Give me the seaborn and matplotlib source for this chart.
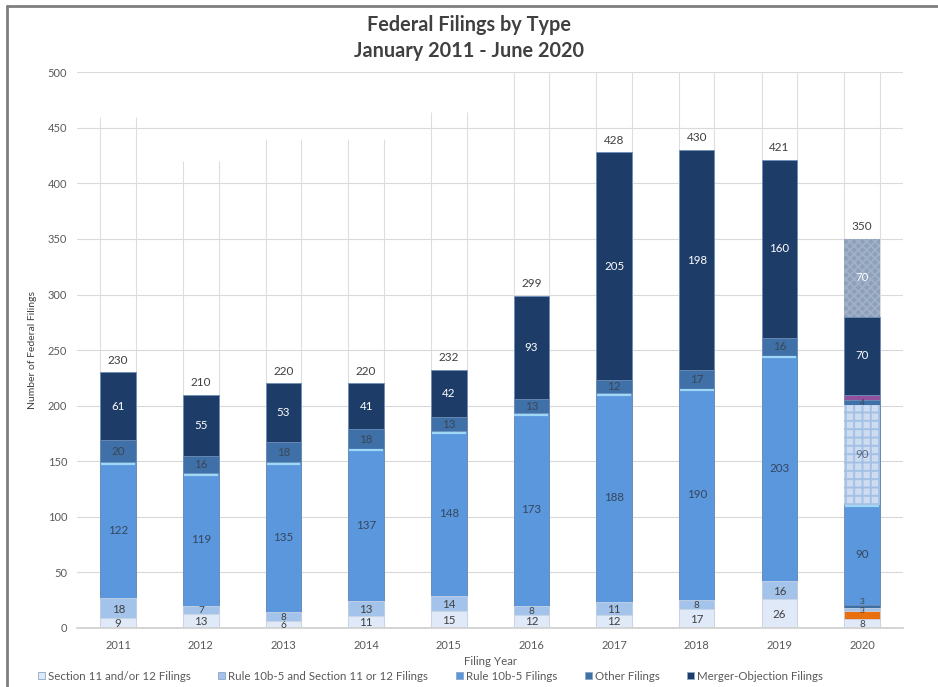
import matplotlib
matplotlib.use("Agg")
import matplotlib.pyplot as plt
import seaborn as sns
import pandas as pd
from matplotlib.patches import Patch
from matplotlib.lines import Line2D

# ---- data -------------------------------------------------------------
years = ["2011", "2012", "2013", "2014", "2015", "2016", "2017", "2018", "2019", "2020"]

section_11 = [9, 13, 6, 11, 15, 12, 12, 17, 26, 8]
orange_2020 = [0, 0, 0, 0, 0, 0, 0, 0, 0, 7]
rule_10b5_s11 = [18, 7, 8, 13, 14, 8, 11, 8, 16, 3]
other_low_2020 = [0, 0, 0, 0, 0, 0, 0, 0, 0, 3]
rule_10b5 = [122, 119, 135, 137, 148, 173, 188, 190, 203, 90]
rule_10b5_proj = [0, 0, 0, 0, 0, 0, 0, 0, 0, 90]
other = [20, 16, 18, 18, 13, 13, 12, 17, 16, 4]
purple_2020 = [0, 0, 0, 0, 0, 0, 0, 0, 0, 5]
merger = [61, 55, 53, 41, 42, 93, 205, 198, 160, 70]
merger_proj = [0, 0, 0, 0, 0, 0, 0, 0, 0, 70]

legend_labels = ["Section 11 and/or 12 Filings",
                 "Rule 10b-5 and Section 11 or 12 Filings",
                 "Rule 10b-5 Filings",
                 "Other Filings",
                 "Merger-Objection Filings"]

# layers bottom -> top: values, face, hatch, hatch colour, label colour, show label, label nudge
layers = [
    (section_11,     "#dfe9f7", None, None,      "#404040", True, -0.5),
    (orange_2020,    "#e8700f", None, None,      "#404040", False, 0),
    (rule_10b5_s11,  "#a3c3ea", None, None,      "#404040", True, -1.0),
    (other_low_2020, "#3d6ea6", None, None,      "#404040", True, 4.5),
    (rule_10b5,      "#5b97dd", None, None,      "#34465e", True, 0),
    (rule_10b5_proj, "#cddcf0", "++", "#a4c0e4", "#5a6a80", True, 0),
    (other,          "#3f70a8", None, None,      "#3a4656", True, 0),
    (purple_2020,    "#93509c", None, None,      "#ffffff", False, 0),
    (merger,         "#1e3c68", None, None,      "#ffffff", True, 0),
    (merger_proj,    "#8d9fb9", "xxxx", "#a0b0c7", "#ffffff", True, 0),
]

# ---- style ------------------------------------------------------------
sns.set_theme(style="white")
plt.rcParams["font.family"] = ["Lato", "DejaVu Sans"]
plt.rcParams["hatch.linewidth"] = 1.4

fig = plt.figure(figsize=(9.38, 6.87), dpi=100)
ax = fig.add_axes([0.082, 0.0859, 0.881, 0.809])

# cumulative tops for overlay stacking
tops = []
running = [0] * len(years)
for vals, *_ in layers:
    running = [r + v for r, v in zip(running, vals)]
    tops.append(list(running))
totals = tops[-1]

bar_w = 0.43
containers = {}
for idx in range(len(layers) - 1, -1, -1):
    vals, face, hatch, hcol = layers[idx][:4]
    df = pd.DataFrame({"year": years, "top": tops[idx], "val": vals})
    df = df[df["val"] > 0]
    n_before = len(ax.containers)
    kw = dict(x="year", y="top", data=df, order=years, color=face,
              saturation=1, width=bar_w, ax=ax, errorbar=None, zorder=2)
    if hatch:
        kw.update(hatch=hatch, edgecolor=hcol, linewidth=0)
    else:
        kw.update(edgecolor="#c9d4e3" if idx < 3 else "#6f8fb8", linewidth=0.6)
    sns.barplot(**kw)
    containers[idx] = (ax.containers[n_before], df.reset_index(drop=True))

# light bevel highlight along the top of the Rule 10b-5 segments
for patch in containers[4][0].patches:
    x0 = patch.get_x()
    ax.hlines(patch.get_height() - 1.2, x0 + 0.01, x0 + patch.get_width() - 0.01,
              color="#9fd8f7", lw=1.6, zorder=3)

# segment value labels
for idx, (vals, face, hatch, hcol, tcol, show, nudge) in enumerate(layers):
    if not show:
        continue
    cont, df = containers[idx]
    for patch, (_, row) in zip(cont.patches, df.iterrows()):
        cx = patch.get_x() + patch.get_width() / 2
        cy = patch.get_height() - row["val"] / 2 + nudge
        if row["val"] < 5:
            fs = 6.0
        elif row["val"] < 9:
            fs = 7.2
        else:
            fs = 8.3
        ax.text(cx, cy, f"{int(row['val'])}", ha="center", va="center",
                fontsize=fs, color=tcol, zorder=5)

# totals above bars and faint edge lines
for i, tot in enumerate(totals):
    ax.text(i, tot + 6, f"{tot}", ha="center", va="bottom", fontsize=8.5, color="#404040", zorder=5)
    reach = min(2 * tot, 500)
    ax.vlines([i - bar_w / 2, i + bar_w / 2], 0, reach, color="#dedede", lw=0.8, zorder=0)

# ---- axes ---------------------------------------------------------------
ax.set_ylim(0, 500)
ax.set_xlim(-0.5, len(years) - 0.5)
ax.set_yticks(range(0, 501, 50))
ax.yaxis.grid(True, color="#d9d9d9", lw=0.8, zorder=0)
ax.set_axisbelow(True)
for s in ["left", "right", "top"]:
    ax.spines[s].set_visible(False)
ax.spines["bottom"].set_color("#d0d0d0")
ax.tick_params(axis="y", labelsize=8, labelcolor="#595959", length=0, pad=7)
ax.tick_params(axis="x", labelsize=8, labelcolor="#595959", length=0, pad=9)
ax.set_xlabel("Filing Year", fontsize=8.3, color="#595959", labelpad=3)
ax.set_ylabel("Number of Federal Filings", fontsize=7.5, color="#404040", labelpad=8)

fig.text(0.5, 0.963, "Federal Filings by Type", ha="center", va="center",
         fontsize=14.3, fontweight="bold", color="#404040")
fig.text(0.5, 0.926, "January 2011 - June 2020", ha="center", va="center",
         fontsize=14.3, fontweight="bold", color="#404040")

handles = [Patch(facecolor=c, edgecolor="#8da6c6", lw=0.6)
           for c in ["#dfe9f7", "#a3c3ea", "#5b97dd", "#3f70a8", "#1e3c68"]]
fig.legend(handles, legend_labels, loc="center", bbox_to_anchor=(0.459, 0.016),
           ncol=5, frameon=False, fontsize=8.3, handlelength=0.6, handleheight=0.6,
           handletextpad=0.25, columnspacing=2.4, labelcolor="#595959")

# outer frame
fig.add_artist(Line2D([0.0075, 0.0075], [0.0, 0.991], transform=fig.transFigure,
                      color="#7f7f7f", lw=2))
fig.add_artist(Line2D([0.0075, 1.0], [0.991, 0.991], transform=fig.transFigure,
                      color="#7f7f7f", lw=2))

fig.savefig("out.png", dpi=100)
